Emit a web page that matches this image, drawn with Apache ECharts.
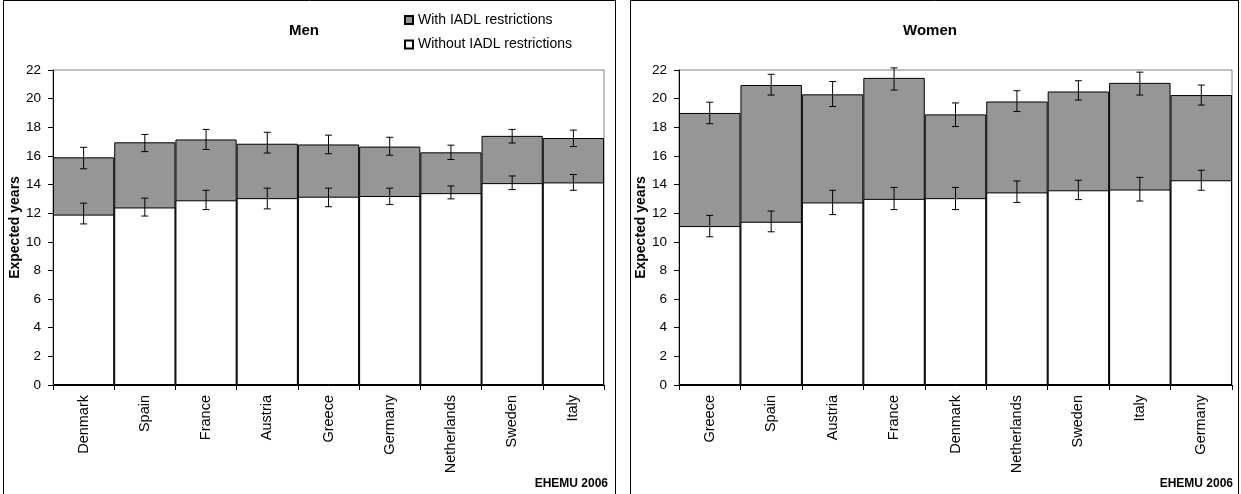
<!DOCTYPE html>
<html>
<head>
<meta charset="utf-8">
<script src="https://cdn.jsdelivr.net/npm/echarts@6/dist/echarts.min.js"></script>
<style>
html,body{margin:0;padding:0;background:#fff;}
#c{width:1241px;height:494px;}
</style>
</head>
<body>
<div id="c"></div>
<script>
// ---- Data ----
const yTicks = [0,2,4,6,8,10,12,14,16,18,20,22];

const menCountries = ['Denmark','Spain','France','Austria','Greece','Germany','Netherlands','Sweden','Italy'];
const menWithout   = [11.9, 12.4, 12.9, 13.05, 13.15, 13.2, 13.4, 14.1, 14.15];
const menWithoutLo = [11.25, 11.8, 12.25, 12.3, 12.45, 12.6, 13.0, 13.65, 13.6];
const menWithoutHi = [12.7, 13.05, 13.6, 13.75, 13.75, 13.75, 13.9, 14.6, 14.7];
const menTotal     = [15.9, 16.95, 17.15, 16.85, 16.8, 16.65, 16.25, 17.4, 17.25];
const menTotalLo   = [15.1, 16.3, 16.45, 16.2, 16.15, 16.05, 15.75, 16.9, 16.65];
const menTotalHi   = [16.6, 17.5, 17.85, 17.65, 17.45, 17.3, 16.75, 17.85, 17.8];

const womenCountries = ['Greece','Spain','Austria','France','Denmark','Netherlands','Sweden','Italy','Germany'];
const womenWithout   = [11.1, 11.4, 12.75, 13.0, 13.05, 13.45, 13.6, 13.65, 14.3];
const womenWithoutLo = [10.35, 10.7, 11.9, 12.25, 12.25, 12.75, 12.95, 12.85, 13.6];
const womenWithoutHi = [11.85, 12.15, 13.6, 13.8, 13.8, 14.25, 14.3, 14.5, 15.0];
const womenTotal     = [19.0, 20.95, 20.3, 21.45, 18.9, 19.8, 20.5, 21.1, 20.25];
const womenTotalLo   = [18.25, 20.25, 19.45, 20.6, 18.05, 19.1, 19.9, 20.25, 19.55];
const womenTotalHi   = [19.75, 21.7, 21.2, 22.15, 19.7, 20.55, 21.25, 21.85, 20.95];

const seriesNames = ['With IADL restrictions', 'Without IADL restrictions'];
const panelTitles = ['Men', 'Women'];
const yAxisName = 'Expected years';
const sourceNote = 'EHEMU 2006';

// ---- Chart ----
const FONT = '"Liberation Sans", Arial, sans-serif';
const chart = echarts.init(document.getElementById('c'), null, {renderer:'canvas'});

function errData(lo, hi){ return lo.map((l,i)=>[i, l, hi[i]]); }

function errorRender(params, api){
  const x = api.value(0);
  const lo = api.coord([x, api.value(1)]);
  const hi = api.coord([x, api.value(2)]);
  const w = 3.5;
  const st = {stroke:'#000', lineWidth:1};
  return {type:'group', children:[
    {type:'line', shape:{x1:lo[0], y1:lo[1], x2:hi[0], y2:hi[1]}, style:st},
    {type:'line', shape:{x1:lo[0]-w, y1:lo[1], x2:lo[0]+w, y2:lo[1]}, style:st},
    {type:'line', shape:{x1:hi[0]-w, y1:hi[1], x2:hi[0]+w, y2:hi[1]}, style:st}
  ]};
}

function xAxis(idx, cats){
  return {type:'category', gridIndex:idx, data:cats,
    axisLine:{lineStyle:{color:'#000', width:1}},
    axisTick:{show:true, length:5, lineStyle:{color:'#000'}},
    axisLabel:{rotate:90, color:'#000', fontSize:14.5, fontFamily:FONT, margin:10}};
}
function yAxis(idx){
  return {type:'value', gridIndex:idx, min:0, max:22, interval:2,
    name:yAxisName, nameLocation:'middle', nameGap:21,
    nameTextStyle:{fontWeight:'bold', fontSize:14, color:'#000', fontFamily:FONT},
    axisLine:{show:true, lineStyle:{color:'#000', width:1}},
    axisTick:{show:true, length:5, lineStyle:{color:'#000'}},
    axisLabel:{color:'#000', fontSize:13.5, fontFamily:FONT, margin:12,
      formatter: v => yTicks.includes(v) ? String(v) : ''},
    splitLine:{show:false}};
}
function bars(idx, total, without){
  return [
    {name:seriesNames[0], type:'bar', xAxisIndex:idx, yAxisIndex:idx, data:total,
      barWidth:'100%', barGap:'-100%',
      itemStyle:{color:'#969696', borderColor:'#000', borderWidth:1}, silent:true, animation:false},
    {name:seriesNames[1], type:'bar', xAxisIndex:idx, yAxisIndex:idx, data:without,
      barWidth:'100%', barGap:'-100%',
      itemStyle:{color:'#ffffff', borderColor:'#000', borderWidth:1}, silent:true, animation:false}
  ];
}
function errs(idx, lo, hi){
  return {type:'custom', xAxisIndex:idx, yAxisIndex:idx, data:errData(lo,hi),
    renderItem:errorRender, z:5, silent:true, animation:false, clip:false};
}

const option = {
  animation:false,
  backgroundColor:'#fff',
  textStyle:{fontFamily:FONT},
  grid:[
    {left:53, right:637, top:70, bottom:109, show:true, borderColor:'#808080', borderWidth:1, backgroundColor:'transparent'},
    {left:679, right:9, top:70, bottom:109, show:true, borderColor:'#808080', borderWidth:1, backgroundColor:'transparent'}
  ],
  legend:{
    data:seriesNames, orient:'vertical', left:399, top:8, itemGap:10.5,
    icon:'rect', itemWidth:8, itemHeight:8,
    textStyle:{fontSize:14, lineHeight:14, color:'#000', fontFamily:FONT},
    selectedMode:false
  },
  xAxis:[xAxis(0, menCountries), xAxis(1, womenCountries)],
  yAxis:[yAxis(0), yAxis(1)],
  series:[
    ...bars(0, menTotal, menWithout),
    errs(0, menWithoutLo, menWithoutHi),
    errs(0, menTotalLo, menTotalHi),
    ...bars(1, womenTotal, womenWithout),
    errs(1, womenWithoutLo, womenWithoutHi),
    errs(1, womenTotalLo, womenTotalHi)
  ],
  graphic:[
    {type:'rect', shape:{x:3.5, y:0.5, width:612, height:520}, style:{fill:'none', stroke:'#000', lineWidth:1}, silent:true},
    {type:'rect', shape:{x:630.5, y:0.5, width:608, height:520}, style:{fill:'none', stroke:'#000', lineWidth:1}, silent:true},
    {type:'text', x:304, y:31, style:{text:panelTitles[0], font:'bold 15px '+FONT, fill:'#000', textAlign:'center', textVerticalAlign:'middle'}, silent:true},
    {type:'text', x:930, y:31, style:{text:panelTitles[1], font:'bold 15px '+FONT, fill:'#000', textAlign:'center', textVerticalAlign:'middle'}, silent:true},
    {type:'text', x:608, y:478, style:{text:sourceNote, font:'bold 12px '+FONT, fill:'#000', textAlign:'right'}, silent:true},
    {type:'text', x:1233, y:478, style:{text:sourceNote, font:'bold 12px '+FONT, fill:'#000', textAlign:'right'}, silent:true}
  ]
};
chart.setOption(option);
</script>
</body>
</html>
